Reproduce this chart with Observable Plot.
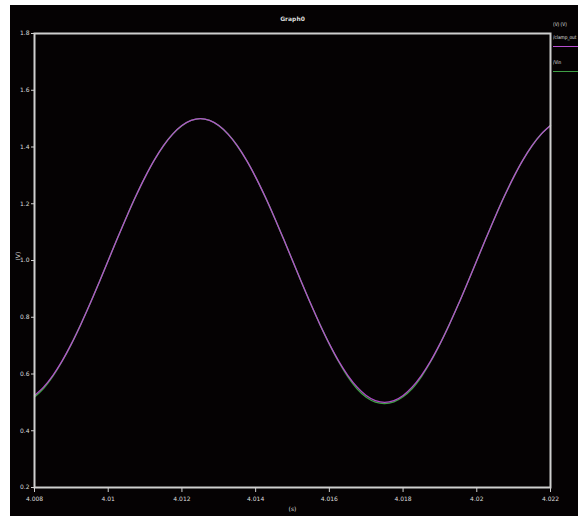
<!DOCTYPE html>
<html>
<head>
<meta charset="utf-8">
<script src="https://cdn.jsdelivr.net/npm/d3@7"></script>
<script src="https://cdn.jsdelivr.net/npm/@observablehq/plot@0.6"></script>
<style>
  html, body { margin: 0; padding: 0; background: #ffffff; }
  #wrap { position: relative; width: 581px; height: 520px; overflow: hidden; }
  #panel { position: absolute; left: 10px; top: 5px; width: 568px; height: 511px; background: #050203; }
  #chart { position: absolute; left: 0; top: 0; }
  #legend { position: absolute; left: 0; top: 0; width: 581px; height: 520px; font: 5px "DejaVu Sans", sans-serif; color: #e0e0e0; }
  #legend .t { position: absolute; left: 553px; white-space: nowrap; transform: scaleX(0.85); transform-origin: left center; line-height: 6px; }
  #legend .sw { position: absolute; left: 553px; width: 25px; height: 0; border-top: 1.5px solid; }
</style>
</head>
<body>
<div id="wrap">
  <div id="panel"></div>
  <div id="chart"></div>
  <div id="legend"></div>
</div>
<script>
// Data
const title = "Graph0";
const xLabel = "(s)";
const yLabel = "(V)";
const legendHeader = "(V) (V)";
const seriesNames = ["/clamp_out", "/Vin"];
const seriesColors = ["#b84fd2", "#3f9e45"];

const tStart = 4.008;
const tStep = 0.00025;

const clampOut = [
  0.5245, 0.5545, 0.5955, 0.6464, 0.7061, 0.7730, 0.8455, 0.9218, 1.0000, 1.0782,
  1.1545, 1.2270, 1.2939, 1.3536, 1.4045, 1.4455, 1.4755, 1.4938, 1.5000, 1.4938,
  1.4755, 1.4455, 1.4045, 1.3536, 1.2939, 1.2270, 1.1545, 1.0782, 1.0000, 0.9218,
  0.8455, 0.7730, 0.7061, 0.6464, 0.5955, 0.5545, 0.5245, 0.5062, 0.5000, 0.5062,
  0.5245, 0.5545, 0.5955, 0.6464, 0.7061, 0.7730, 0.8455, 0.9218, 1.0000, 1.0782,
  1.1545, 1.2270, 1.2939, 1.3536, 1.4045, 1.4455, 1.4755
];
const vin = [
  0.5190, 0.5500, 0.5925, 0.6450, 0.7055, 0.7730, 0.8455, 0.9218, 1.0000, 1.0782,
  1.1545, 1.2270, 1.2939, 1.3536, 1.4045, 1.4455, 1.4755, 1.4938, 1.5000, 1.4938,
  1.4755, 1.4455, 1.4045, 1.3536, 1.2939, 1.2270, 1.1545, 1.0782, 1.0000, 0.9218,
  0.8455, 0.7730, 0.7055, 0.6440, 0.5905, 0.5480, 0.5180, 0.5010, 0.4960, 0.5020,
  0.5200, 0.5490, 0.5910, 0.6440, 0.7055, 0.7730, 0.8455, 0.9218, 1.0000, 1.0782,
  1.1545, 1.2270, 1.2939, 1.3536, 1.4045, 1.4455, 1.4755
];

const xTicks = [4.008, 4.010, 4.012, 4.014, 4.016, 4.018, 4.020, 4.022];
const xTickLabels = ["4.008", "4.01", "4.012", "4.014", "4.016", "4.018", "4.02", "4.022"];
const yTicks = [0.2, 0.4, 0.6, 0.8, 1.0, 1.2, 1.4, 1.6, 1.8];
const yTickLabels = ["0.2", "0.4", "0.6", "0.8", "1.0", "1.2", "1.4", "1.6", "1.8"];

const rows = (vals, name) => vals.map((v, i) => ({t: tStart + i * tStep, v, name}));
const dataOut = rows(clampOut, seriesNames[0]);
const dataVin = rows(vin, seriesNames[1]);

const txt = "#dcdcdc";
const plot = Plot.plot({
  width: 581,
  height: 520,
  marginLeft: 34,
  marginRight: 31,
  marginTop: 33,
  marginBottom: 33,
  style: {background: "transparent", fontFamily: "DejaVu Sans, sans-serif", fontSize: "6px", color: txt},
  x: {domain: [4.008, 4.022], label: null},
  y: {domain: [0.2, 1.8], label: null},
  marks: [
    Plot.axisX({ticks: xTicks, tickFormat: (d, i) => xTickLabels[i], tickSize: 5, tickPadding: 4, stroke: "#cfcfcf", fill: txt, label: null}),
    Plot.axisY({ticks: yTicks, tickFormat: (d, i) => yTickLabels[i], tickSize: 3, tickPadding: 2, stroke: "#cfcfcf", fill: txt, label: null}),
    Plot.line(dataVin, {x: "t", y: "v", stroke: seriesColors[1], strokeWidth: 1.4, curve: "catmull-rom"}),
    Plot.line(dataOut, {x: "t", y: "v", stroke: seriesColors[0], strokeWidth: 1.3, curve: "catmull-rom", strokeOpacity: 0.95}),
    Plot.frame({stroke: "#cfcfcf", strokeWidth: 2}),
    Plot.text([title], {frameAnchor: "top", dy: -17, fill: txt, fontSize: 6, fontWeight: "bold"}),
    Plot.text([xLabel], {frameAnchor: "bottom", dy: 23, fill: txt, fontSize: 6}),
    Plot.text([yLabel], {frameAnchor: "left", dx: -16, rotate: -90, fill: txt, fontSize: 6})
  ]
});
document.getElementById("chart").appendChild(plot);

// Legend (top right), positioned beside the frame
const lg = document.getElementById("legend");
function addText(s, top) {
  const d = document.createElement("div");
  d.className = "t";
  d.style.top = top + "px";
  d.textContent = s;
  lg.appendChild(d);
}
function addSwatch(color, top) {
  const d = document.createElement("div");
  d.className = "sw";
  d.style.top = top + "px";
  d.style.borderTopColor = color;
  lg.appendChild(d);
}
addText(legendHeader, 21);
const labelTops = [34, 59];
const swatchTops = [46, 71];
seriesNames.forEach((n, i) => {
  addText(n, labelTops[i]);
  addSwatch(seriesColors[i], swatchTops[i]);
});
</script>
</body>
</html>
